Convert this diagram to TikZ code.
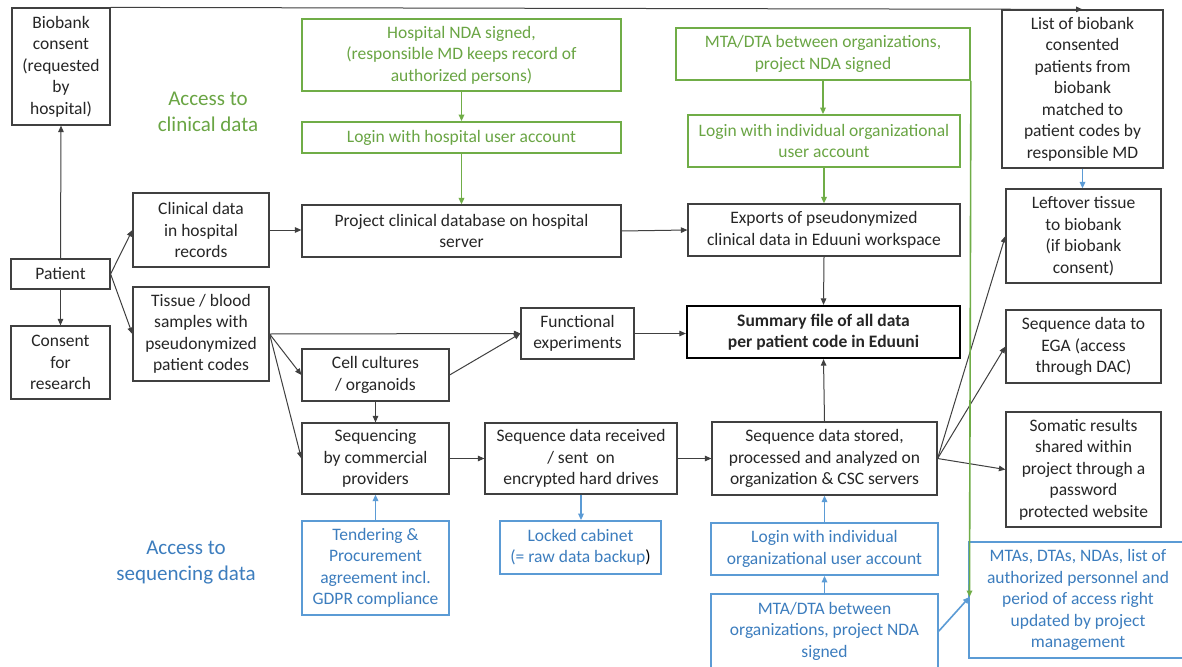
\documentclass[tikz,border=0pt]{standalone}
\usepackage{fontspec}
\setmainfont{Carlito}
\usetikzlibrary{arrows.meta}
\definecolor{gline}{RGB}{112,173,71}
\definecolor{gtext}{RGB}{106,165,68}
\definecolor{bline}{RGB}{91,155,213}
\definecolor{btext}{RGB}{60,125,190}
\definecolor{ktext}{RGB}{38,38,38}
\definecolor{kline}{RGB}{64,64,64}
\begin{document}
\begin{tikzpicture}[x=1pt,y=-1pt,
  base/.style={align=center, inner sep=0pt, font=\fontsize{17.5}{21.5}\selectfont},
  kbox/.style={base, draw=kline, line width=1.2pt, text=ktext},
  gbox/.style={base, draw=gline, line width=1.8pt, text=gtext},
  ubox/.style={base, draw=bline, line width=1.8pt, text=btext},
  sz/.style 2 args={minimum width=#1pt, minimum height=#2pt},
  arr/.style={draw=kline, line width=1pt, -{Triangle[length=6.5pt,width=5.5pt]}},
  garr/.style={draw=gline, line width=1.6pt, -{Triangle[length=6.5pt,width=5.5pt]}},
  barr/.style={draw=bline, line width=1.6pt, -{Triangle[length=6.5pt,width=5.5pt]}},
  lbl/.style={align=center, inner sep=0pt, font=\fontsize{21}{26}\selectfont},
]
\fill[white] (0,0) rectangle (1182,666);
\useasboundingbox (0,0) rectangle (1182,666);

% labels
\node[lbl, text=gtext] (lclin) at (208,112) {Access to\\clinical data};
\node[lbl, text=btext] (lseq) at (186,563) {Access to\\sequencing data};

% black boxes
\node[kbox, sz={98}{117}] (bio) at (61,66.5) {Biobank\\consent\\(requested\\by\\hospital)};
\node[kbox, sz={99}{30}] (patient) at (60.5,274) {Patient};
\node[kbox, sz={99}{73}] (consent) at (60.5,362.5) {Consent\\for\\research};
\node[kbox, sz={136}{74}] (clin) at (201,230) {Clinical data\\in hospital\\records};
\node[kbox, sz={136}{94}] (tissue) at (201,334) {Tissue / blood\\samples with\\pseudonymized\\patient codes};
\node[kbox, sz={319}{52}] (projdb) at (461.5,231) {Project clinical database on hospital\\server};
\node[kbox, sz={147}{52}] (cell) at (375.5,375) {Cell cultures\\/ organoids};
\node[kbox, sz={147}{71}] (seq) at (375.5,458.5) {Sequencing\\by commercial\\providers};
\node[kbox, sz={192}{71}] (recv) at (581,458.5) {Sequence data received\\/ sent~~on\\encrypted hard drives};
\node[kbox, sz={113}{51}] (func) at (577.5,333.5) {Functional\\experiments};
\node[kbox, sz={273}{52}, line width=2.2pt, draw=black] (summary) at (823.5,332) {\textbf{Summary file of all data}\\\textbf{per patient code in Eduuni}};
\node[kbox, sz={272}{52}] (exports) at (824,230) {Exports of pseudonymized\\clinical data in Eduuni workspace};
\node[kbox, sz={225}{73}] (stored) at (824.5,458.5) {Sequence data stored,\\processed and analyzed on\\organization \& CSC servers};
\node[kbox, sz={161}{158}] (list) at (1082.5,89) {List of biobank\\consented\\patients from\\biobank\\matched to\\patient codes by\\responsible MD};
\node[kbox, sz={155}{94}] (leftover) at (1083.5,236) {Leftover tissue\\to biobank\\(if biobank\\consent)};
\node[kbox, sz={155}{73}] (ega) at (1083.5,346.5) {Sequence data to\\EGA (access\\through DAC)};
\node[kbox, sz={155}{115}] (somatic) at (1083.5,469.5) {Somatic results\\shared within\\project through a\\password\\protected website};

% green boxes
\node[gbox, sz={319}{72}] (hnda) at (461.5,55) {Hospital NDA signed,\\(responsible MD keeps record of\\authorized persons)};
\node[gbox, sz={319}{31}] (hlogin) at (461.5,137.5) {Login with hospital user account};
\node[gbox, sz={294}{52}] (mtag) at (823,54) {MTA/DTA between organizations,\\project NDA signed};
\node[gbox, sz={272}{52}] (loging) at (824,141) {Login with individual organizational\\user account};

% blue boxes
\node[ubox, sz={147}{94}] (tender) at (375.5,568) {Tendering \&\\Procurement\\agreement incl.\\GDPR compliance};
\node[ubox, sz={161}{53}] (locked) at (580.5,547.5) {Locked cabinet\\(= raw data backup{\color{black})}};
\node[ubox, sz={227}{52}] (loginb) at (824.5,549) {Login with individual\\organizational user account};
\node[ubox, sz={227}{74}] (mtab) at (824.5,631) {MTA/DTA between\\organizations, project NDA\\signed};
\draw[draw=bline, line width=1.8pt] (969,542) rectangle (1200,658);
\node[base, text=btext] (mtas) at (1078,600) {MTAs, DTAs, NDAs, list of\\authorized personnel and\\period of access right\\updated by project\\management};

\coordinate (gend) at (969.5,597);

% black connectors
\draw[arr] (bio.north east) -- (list.north);
\draw[arr] (patient.north) -- (bio.south);
\draw[arr] (patient.south) -- (consent.north);
\draw[arr] (patient.east) -- (clin.west);
\draw[arr] (patient.east) -- (tissue.west);
\draw[arr] (clin.east) -- (clin.east -| projdb.west);
\draw[arr] (projdb.east) -- (exports.west);
\draw[arr] (exports.south) -- (summary.north);
\draw[arr] (stored.north) -- (summary.south);
\draw[arr] (func.east) -- (func.east -| summary.west);
\draw[arr] (tissue.east) -- (func.west);
\draw[arr] (cell.east) -- (func.west);
\draw[arr] (tissue.east) -- (cell.west);
\draw[arr] (tissue.east) -- (seq.west);
\draw[arr] (cell.south) -- (seq.north);
\draw[arr] (seq.east) -- (recv.west);
\draw[arr] (recv.east) -- (stored.west);
\draw[arr] (stored.east) -- (leftover.west);
\draw[arr] (stored.east) -- (ega.west);
\draw[arr] (stored.east) -- (somatic.west);

% green connectors
\draw[garr] (hnda.south) -- (hlogin.north);
\draw[garr] (hlogin.south) -- (projdb.north);
\draw[garr] (mtag.south) -- (mtag.south |- loging.north);
\draw[garr] (loging.south) -- (exports.north);
\draw[garr] (mtag.south east) -- (gend);

% blue connectors
\draw[barr] (recv.south) -- (recv.south |- locked.north);
\draw[barr] (tender.north) -- (seq.south);
\draw[barr] (loginb.north) -- (stored.south);
\draw[barr] (mtab.north) -- (loginb.south);
\draw[barr] (list.south) -- (list.south |- leftover.north);
\draw[barr] (mtab.east) -- (gend);
\end{tikzpicture}
\end{document}
